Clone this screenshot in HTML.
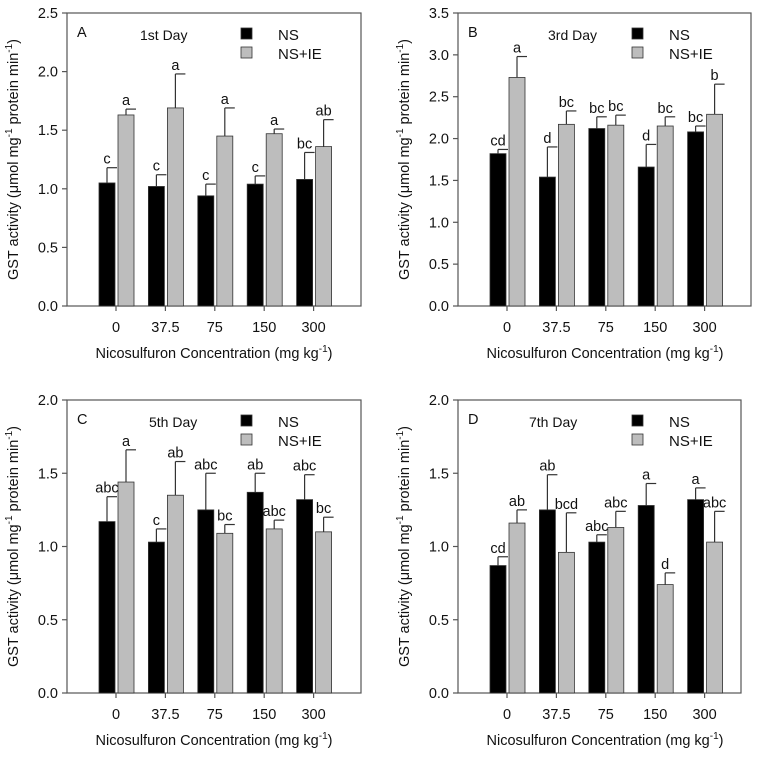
<!DOCTYPE html>
<html><head><meta charset="utf-8"><style>
body{margin:0;background:#fff;}
svg text{font-family:"Liberation Sans",sans-serif;fill:#111;}
</style></head><body>
<svg id="chart" width="760" height="756" viewBox="0 0 760 756" xmlns="http://www.w3.org/2000/svg"></svg>
<script>
const categories = ["0","37.5","75","150","300"];
const aNS = [1.05,1.02,0.94,1.04,1.08];
const aNSerr = [0.13,0.10,0.10,0.07,0.23];
const aIE = [1.63,1.69,1.45,1.47,1.36];
const aIEerr = [0.05,0.29,0.24,0.04,0.23];
const aNSlet = ["c","c","c","c","bc"];
const aIElet = ["a","a","a","a","ab"];
const bNS = [1.82,1.54,2.12,1.66,2.08];
const bNSerr = [0.05,0.36,0.14,0.27,0.07];
const bIE = [2.73,2.17,2.16,2.15,2.29];
const bIEerr = [0.25,0.16,0.12,0.11,0.36];
const bNSlet = ["cd","d","bc","d","bc"];
const bIElet = ["a","bc","bc","bc","b"];
const cNS = [1.17,1.03,1.25,1.37,1.32];
const cNSerr = [0.17,0.09,0.25,0.13,0.17];
const cIE = [1.44,1.35,1.09,1.12,1.10];
const cIEerr = [0.22,0.23,0.06,0.06,0.10];
const cNSlet = ["abc","c","abc","ab","abc"];
const cIElet = ["a","ab","bc","abc","bc"];
const dNS = [0.87,1.25,1.03,1.28,1.32];
const dNSerr = [0.06,0.24,0.05,0.15,0.08];
const dIE = [1.16,0.96,1.13,0.74,1.03];
const dIEerr = [0.09,0.27,0.11,0.08,0.21];
const dNSlet = ["cd","ab","abc","a","a"];
const dIElet = ["ab","bcd","abc","d","abc"];
const yTicksA = ["0.0","0.5","1.0","1.5","2.0","2.5"];
const yTicksB = ["0.0","0.5","1.0","1.5","2.0","2.5","3.0","3.5"];
const yTicksCD = ["0.0","0.5","1.0","1.5","2.0"];

const svg = document.getElementById('chart');
const NS = 'http://www.w3.org/2000/svg';
function mk(tag, attrs, parent){
  const e = document.createElementNS(NS, tag);
  for (const k in attrs) e.setAttribute(k, attrs[k]);
  (parent||svg).appendChild(e); return e;
}
function panel(p){
  const g = mk('g', {});
  
  
  const ymax = parseFloat(p.ticks[p.ticks.length-1]);
  const ys = v => p.bottom - v / ymax * (p.bottom - p.top);
  const xc = i => p.left + 49 + i * 49.4;
  const frame = mk('rect', {x:p.left, y:p.top, width:p.right-p.left, height:p.bottom-p.top, fill:'none', stroke:'#555', 'stroke-width':1.2}, g);
  
  
  p.ticks.forEach(t => {
    const y = ys(parseFloat(t));
    mk('line', {x1:p.left-5, x2:p.left, y1:y, y2:y, stroke:'#555', 'stroke-width':1.2}, g);
    const tx = mk('text', {x:p.left-9, y:y+5, 'text-anchor':'end', 'font-size':14.5}, g);
    tx.textContent = t;
    
    
  });
  categories.forEach((c, i) => {
    const x = xc(i);
    mk('line', {x1:x, x2:x, y1:p.bottom, y2:p.bottom+5, stroke:'#555', 'stroke-width':1.2}, g);
    const tx = mk('text', {x:x, y:p.bottom+26, 'text-anchor':'middle', 'font-size':14.5}, g);
    tx.textContent = c;
    
    
    const series = [[p.ns, p.nsErr, p.nsLet, '#000', -17], [p.ie, p.ieErr, p.ieLet, '#bdbdbd', 2]];
    series.forEach(([vals, errs, lets, col, off], s) => {
      const v = vals[i], e = errs[i];
      const r = mk('rect', {x:x+off, y:ys(v), width:16, height:p.bottom-ys(v), fill:col, stroke:'#333', 'stroke-width':0.8}, g);
      
      
      const bx = x + off + 8, ty = ys(v + e);
      mk('line', {x1:bx, x2:bx, y1:ys(v), y2:ty, stroke:'#333', 'stroke-width':1.2}, g);
      mk('line', {x1:bx, x2:bx+10, y1:ty, y2:ty, stroke:'#333', 'stroke-width':1.2}, g);
      const lt = mk('text', {x:bx, y:ty-4, 'text-anchor':'middle', 'font-size':14.5}, g);
      lt.textContent = lets[i];
      
      
    });
  });
  const id = mk('text', {x:p.left+10, y:p.top+24, 'font-size':14.5}, g);
  id.textContent = p.id;
  
  
  const day = mk('text', {x:p.left+p.dayX, y:p.top+27, 'font-size':14}, g);
  day.textContent = p.day;
  
  
  [['NS','#000',21],['NS+IE','#bdbdbd',40]].forEach(([n,col,dy]) => {
    const sq = mk('rect', {x:p.left+174, y:p.top+dy-6, width:11, height:11, fill:col, stroke:'#333', 'stroke-width':0.8}, g);
    
    
    const lt = mk('text', {x:p.left+211, y:p.top+dy+6, 'font-size':15}, g);
    lt.textContent = n;
    
    
  });
  const cy = (p.top + p.bottom)/2, tx = p.left - 49;
  const yt = mk('text', {x:tx, y:cy, 'text-anchor':'middle', 'font-size':14.5, transform:`rotate(-90 ${tx} ${cy})`}, g);
  yt.innerHTML = 'GST activity (μmol mg<tspan dy="-6" font-size="10">-1</tspan><tspan dy="6"> protein min</tspan><tspan dy="-6" font-size="10">-1</tspan><tspan dy="6">)</tspan>';
  
  
  const xt = mk('text', {x:p.left+147, y:p.bottom+52, 'text-anchor':'middle', 'font-size':14.5}, g);
  xt.innerHTML = 'Nicosulfuron Concentration (mg kg<tspan dy="-6" font-size="10">-1</tspan><tspan dy="6">)</tspan>';
  
  
}
panel({id:'A', day:'1st Day', dayX:73, left:67, right:361, top:13, bottom:306, ticks:yTicksA, ns:aNS, nsErr:aNSerr, ie:aIE, ieErr:aIEerr, nsLet:aNSlet, ieLet:aIElet});
panel({id:'B', day:'3rd Day', dayX:90, left:458, right:751, top:13, bottom:306, ticks:yTicksB, ns:bNS, nsErr:bNSerr, ie:bIE, ieErr:bIEerr, nsLet:bNSlet, ieLet:bIElet});
panel({id:'C', day:'5th Day', dayX:82, left:67, right:361, top:400, bottom:693, ticks:yTicksCD, ns:cNS, nsErr:cNSerr, ie:cIE, ieErr:cIEerr, nsLet:cNSlet, ieLet:cIElet});
panel({id:'D', day:'7th Day', dayX:71, left:458, right:741, top:400, bottom:693, ticks:yTicksCD, ns:dNS, nsErr:dNSerr, ie:dIE, ieErr:dIEerr, nsLet:dNSlet, ieLet:dIElet});
</script>
</body></html>
